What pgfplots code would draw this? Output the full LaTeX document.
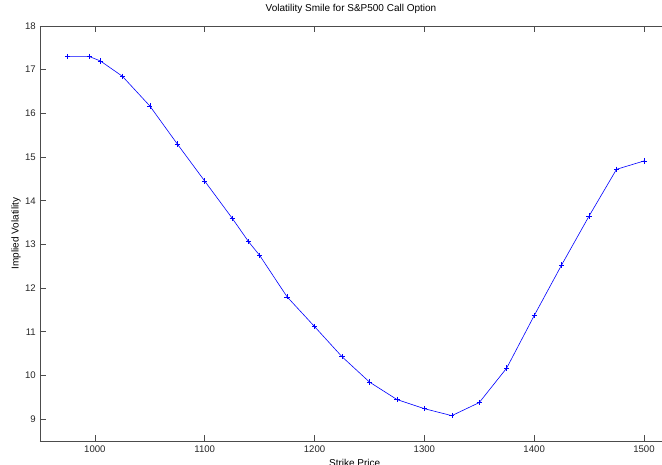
\documentclass[border=0pt]{standalone}
\usepackage{fontspec}
\setmainfont{Liberation Sans}
\usepackage{pgfplots}
\pgfplotsset{compat=1.18}
\begin{document}
\begin{tikzpicture}
\useasboundingbox (-40pt,-24pt) rectangle (622pt,441pt);
\begin{axis}[
  at={(0,0)}, anchor=south west,
  scale only axis, width=622pt, height=415pt,
  xmin=950, xmax=1516.4, ymin=8.5, ymax=18,
  axis x line=box, axis y line=left,
  axis line style={black!70, line width=0.6pt, -},
  xtick={1000,1100,1200,1300,1400,1500},
  ytick={9,10,11,12,13,14,15,16,17,18},
  tick align=inside, major tick length=6pt,
  tick style={black!70, line width=0.6pt},
  /pgf/number format/assume math mode=true,
  /pgf/number format/1000 sep={},
  font=\fontsize{10}{11}\selectfont,
  tick label style={inner sep=0pt, font=\fontsize{9.6}{11}\selectfont, text=black!85},
  xticklabel style={yshift=-4.5pt},
  yticklabel style={xshift=-4pt},
  title={Volatility Smile for S\&P500 Call Option},
  title style={at={(axis description cs:0.5,1)}, anchor=base, yshift=9pt, inner sep=0pt, font=\fontsize{10}{11}\selectfont},
  xlabel={Strike Price},
  xlabel style={at={(axis description cs:0.506,0)}, anchor=north, yshift=-18pt, inner sep=0pt, font=\fontsize{10}{11}\selectfont},
  ylabel={Implied Volatility},
  ylabel style={at={(axis description cs:-0.0386,0.5)}, anchor=center, inner sep=0pt, font=\fontsize{10}{11}\selectfont},
  clip=false,
]
\addplot[blue, line width=0.6pt, mark=+, mark size=2.6pt, mark options={line width=0.6pt}] coordinates {
(975,17.30) (995,17.30) (1005,17.20) (1025,16.85) (1050,16.17)
(1075,15.30) (1100,14.45) (1125,13.60) (1140,13.06) (1150,12.75)
(1175,11.80) (1200,11.12) (1225,10.43) (1250,9.85) (1275,9.45)
(1300,9.24) (1325,9.08) (1350,9.38) (1375,10.17) (1400,11.37)
(1425,12.53) (1450,13.65) (1475,14.72) (1500,14.91)
};
\end{axis}
\end{tikzpicture}
\end{document}
